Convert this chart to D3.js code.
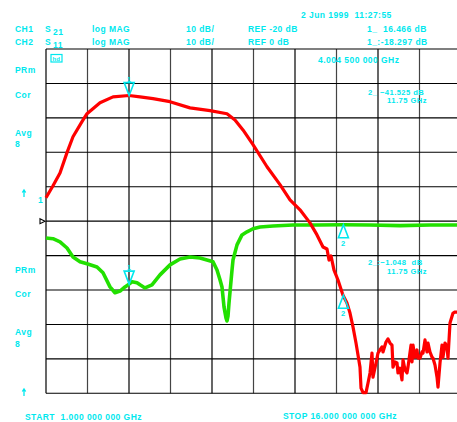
<!DOCTYPE html>
<html><head><meta charset="utf-8">
<script src="https://cdn.jsdelivr.net/npm/d3@7"></script>
<style>
html,body{margin:0;padding:0;background:#fff;}
svg{display:block;}
text{font-family:"Liberation Sans",Arial,sans-serif;font-weight:bold;fill:#00e8ee;letter-spacing:0.45px;white-space:pre;}
</style></head>
<body>
<svg id="c" width="457" height="422"></svg>
<script>
// ---- Data (frequency in GHz, magnitude in dB) ----
const s21Freq = [1.000,1.253,1.506,1.759,1.976,2.301,2.482,2.952,3.422,4.000,4.398,4.868,5.482,6.205,6.928,7.542,7.831,8.120,8.482,8.988,9.458,9.819,10.181,10.542,10.795,11.012,11.157,11.229,11.301,11.410,11.554,11.735,11.880,11.988,12.096,12.205,12.277,12.349,12.386,12.458,12.566,12.639,12.711,12.783,12.819,12.928,13.000,13.072,13.145,13.181,13.289,13.361,13.434,13.506,13.542,13.614,13.687,13.723,13.795,13.867,13.904,13.976,14.048,14.084,14.193,14.229,14.265,14.337,14.410,14.446,14.518,14.590,14.627,14.699,14.771,14.807,14.880,14.952,14.988,15.060,15.133,15.169,15.241,15.313,15.349,15.422,15.494,15.530,15.602,15.711,15.783,15.855,16.000];
const s21dB = [-13.2,-9.7,-6.0,-0.1,4.5,8.9,11.2,14.4,16.1,16.5,16.1,15.6,14.7,12.9,12.1,11.2,9.4,6.5,2.2,-4.2,-9.4,-13.8,-16.7,-20.5,-24.0,-27.5,-28.1,-31.3,-30.1,-34.2,-37.1,-41.5,-43.8,-46.7,-50.7,-55.4,-58.9,-62.4,-68.5,-69.8,-69.8,-67.0,-64.1,-58.3,-65.3,-61.2,-58.3,-57.4,-56.5,-58.0,-55.1,-54.2,-55.4,-56.0,-62.4,-60.9,-61.2,-64.1,-62.7,-66.1,-60.3,-63.2,-64.1,-62.4,-56.0,-60.9,-56.0,-59.5,-57.4,-59.8,-59.8,-58.0,-58.3,-54.5,-58.0,-55.4,-58.0,-59.5,-59.8,-61.8,-65.3,-68.2,-61.2,-56.0,-59.5,-55.4,-56.5,-59.8,-49.6,-46.7,-46.4,-46.4,-46.4];

const s11Freq = [1.000,1.253,1.506,1.759,1.976,2.229,2.482,2.843,3.060,3.313,3.494,3.675,3.855,4.000,4.108,4.289,4.398,4.578,4.831,5.120,5.482,5.843,6.205,6.566,7.036,7.181,7.289,7.361,7.434,7.506,7.542,7.578,7.614,7.723,7.759,7.904,8.084,8.265,8.482,8.735,9.205,9.928,10.795,11.735,12.710,13.800,14.880,15.855,16.000];
const s11dB = [-4.9,-5.1,-6.0,-7.8,-10.4,-11.8,-12.4,-13.3,-15.0,-19.1,-20.8,-20.3,-19.1,-18.3,-17.6,-17.9,-18.5,-19.4,-18.5,-15.6,-12.7,-11.0,-10.4,-10.7,-11.8,-14.2,-17.0,-19.1,-24.9,-28.1,-29.0,-27.6,-23.8,-14.2,-11.3,-6.9,-4.0,-3.1,-2.2,-1.7,-1.4,-1.1,-1.1,-1.05,-1.1,-1.3,-1.1,-1.1,-1.2];

const freqStart = 1, freqStop = 16, freqDiv = 1.5;
const ch1Ref = -20, ch2Ref = 0, dbPerDiv = 10;
const marker1Freq = 4.0045, marker2Freq = 11.75;
const marker1 = {ch1: 16.466, ch2: -18.297};
const marker2 = {ch1: -41.525, ch2: -1.048};

const headerRows = [
  ["CH1","21","log MAG","10 dB/","REF -20 dB","1_  16.466 dB"],
  ["CH2","11","log MAG","10 dB/","REF 0 dB","1_:-18.297 dB"]
];
const dateText = "2 Jun 1999  11:27:55";
const marker1FreqText = "4.004 500 000 GHz";
const startText = "START  1.000 000 000 GHz";
const stopText = "STOP 16.000 000 000 GHz";

// ---- Drawing ----
const svg = d3.select("#c");
const pLeft = 46, pTop = 49, divW = 41.5, divH = 34.43;
const x = d3.scaleLinear().domain([freqStart, freqStop]).range([pLeft, pLeft + 10*divW]);
const y1 = d3.scaleLinear().domain([ch1Ref - 5*dbPerDiv, ch1Ref + 5*dbPerDiv]).range([pTop + 10*divH, pTop]);
const y2 = d3.scaleLinear().domain([ch2Ref - 5*dbPerDiv, ch2Ref + 5*dbPerDiv]).range([pTop + 10*divH, pTop]);

const g = svg.append("g");
const xt = d3.range(freqStart, freqStop + 0.01, freqDiv);
const yt = d3.range(ch1Ref - 5*dbPerDiv, ch1Ref + 5*dbPerDiv + 0.01, dbPerDiv);
g.selectAll("line.v").data(xt).join("line").attr("class","v")
  .attr("x1", d => x(d)).attr("x2", d => x(d)).attr("y1", pTop).attr("y2", y1(yt[0]))
  .attr("stroke", (d,i) => i % 2 ? "#444" : "#000").attr("stroke-width", 1.2);
g.selectAll("line.h").data(yt).join("line").attr("class","h")
  .attr("x1", pLeft).attr("x2", x(freqStop)).attr("y1", d => y1(d)).attr("y2", d => y1(d))
  .attr("stroke", "#000").attr("stroke-width", 1.1);

const l2 = d3.line().x((d,i) => x(s11Freq[i])).y(d => y2(d));
const l1 = d3.line().x((d,i) => x(s21Freq[i])).y(d => y1(d));
svg.append("path").datum(s11dB).attr("d", l2).attr("fill","none")
  .attr("stroke","#22e000").attr("stroke-width",3.6).attr("stroke-linejoin","round");
svg.append("path").datum(s21dB).attr("d", l1).attr("fill","none")
  .attr("stroke","#ff0000").attr("stroke-width",3.2).attr("stroke-linejoin","round");

// markers
const cy = "#00e8ee";
function downMarker(px, py, lab){
  svg.append("path").attr("d", `M${px-5},${py-13}L${px+5},${py-13}L${px},${py}Z`)
    .attr("fill","none").attr("stroke",cy).attr("stroke-width",1.6);
  svg.append("text").attr("x",px).attr("y",py-14).attr("text-anchor","middle")
    .style("font-size","7px").text(lab);
}
function upMarker(px, py, lab){
  svg.append("path").attr("d", `M${px},${py}L${px+5},${py+13}L${px-5},${py+13}Z`)
    .attr("fill","none").attr("stroke",cy).attr("stroke-width",1.6);
  svg.append("text").attr("x",px).attr("y",py+21).attr("text-anchor","middle")
    .style("font-size","7.5px").text(lab);
}
downMarker(x(marker1Freq), y1(marker1.ch1), "1");
downMarker(x(marker1Freq), y2(marker1.ch2), "1");
upMarker(x(marker2Freq), y1(marker2.ch1), "2");
upMarker(x(marker2Freq), y2(marker2.ch2), "2");

// texts
const fs = "8.5px";
function t(xx, yy, s, size){ return svg.append("text").attr("x",xx).attr("y",yy).style("font-size",size||fs).text(s); }
t(301, 18, dateText);
headerRows.forEach((r, i) => {
  const by = 32 + i*13;
  t(15, by, r[0]);
  t(45, by, "S");
  t(53, by+3, r[1]);
  t(92, by, r[2]);
  t(186, by, r[3]);
  t(248, by, r[4]);
  t(367, by, r[5]);
});
t(318, 63, marker1FreqText);
// small annotation box
svg.append("rect").attr("x",51).attr("y",54.5).attr("width",11).attr("height",7.5)
  .attr("fill","none").attr("stroke",cy).attr("stroke-width",1.2);
t(52.5, 61, "hd", "6px").style("letter-spacing","0px");

t(368, 95, "2_ " + d3.format(".3f")(marker2.ch1) + " dB", "7.6px");
t(387, 103, d3.format(".2f")(marker2Freq) + " GHz", "7.6px");
t(368, 265, "2_:" + d3.format(".3f")(marker2.ch2) + "  dB", "7.6px");
t(387, 273.5, d3.format(".2f")(marker2Freq) + " GHz", "7.6px");

[[73,"PRm"],[98,"Cor"],[136,"Avg"],[147,"8"],[273,"PRm"],[297,"Cor"],[335,"Avg"],[347,"8"]]
  .forEach(d => t(15, d[0], d[1]));
// up arrows (cyan)
[190, 389].forEach(ay => {
  svg.append("path").attr("d", `M24,${ay+7}L24,${ay}M22.3,${ay+2.5}L24,${ay}L25.7,${ay+2.5}`)
    .attr("fill","none").attr("stroke",cy).attr("stroke-width",1.3);
});
t(38, 203, "1");
// CH2 reference indicator
svg.append("path").attr("d", `M40,${y2(ch2Ref)-2.5}L45,${y2(ch2Ref)}L40,${y2(ch2Ref)+2.5}Z`)
  .attr("fill","none").attr("stroke","#000").attr("stroke-width",1.1);

t(25, 420, startText);
t(283, 419, stopText);
</script>
</body></html>
